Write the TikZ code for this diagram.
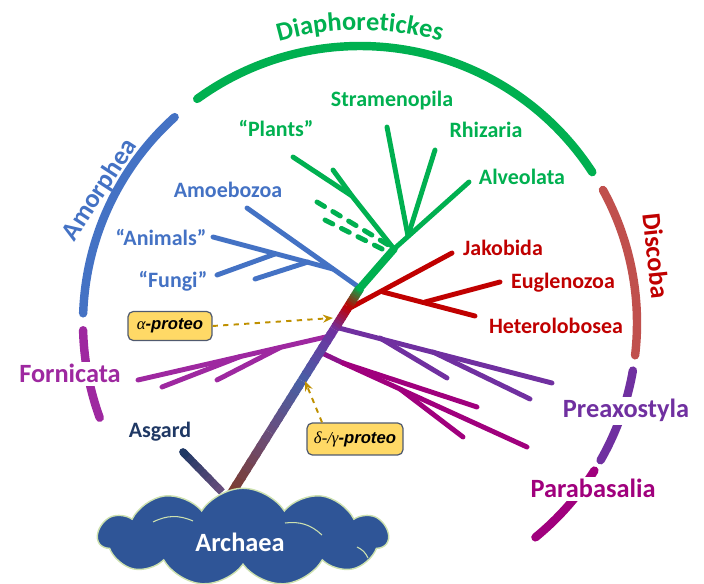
\documentclass[tikz,border=0pt]{standalone}
\usepackage{fontspec}
\setmainfont{Carlito}
\newfontfamily\greekfont{Liberation Serif}
\newfontfamily\boxfont{Liberation Sans}
\usepackage{tikz}
\usetikzlibrary{arrows.meta, calc, shapes.symbols, decorations.text}

\definecolor{leafgreen}{RGB}{0,176,80}
\definecolor{amorblue}{RGB}{68,114,196}
\definecolor{discored}{RGB}{192,0,0}
\definecolor{discoarc}{RGB}{192,80,77}
\definecolor{preaxpurple}{RGB}{112,48,160}
\definecolor{parabmagenta}{RGB}{160,0,125}
\definecolor{fornpurple}{RGB}{158,40,160}
\definecolor{asgardnavy}{RGB}{31,56,100}
\definecolor{trBrown}{RGB}{125,60,45}
\definecolor{trMauve}{RGB}{105,78,125}
\definecolor{trSlate}{RGB}{72,95,165}
\definecolor{cloudblue}{RGB}{47,85,151}
\definecolor{cloudedge}{RGB}{205,225,175}
\definecolor{boxfill}{RGB}{255,217,102}
\definecolor{boxedge}{RGB}{80,90,110}
\definecolor{arrowgold}{RGB}{191,144,0}

% colour ramp along a straight line
\newcommand{\gradline}[5]{%
  \foreach \k in {0,...,7}{
    \pgfmathsetmacro{\gfrom}{\k/8}
    \pgfmathsetmacro{\gto}{min(1,(\k+1.3)/8)}
    \pgfmathtruncatemacro{\gpc}{round(100*(\k+0.5)/8)}
    \draw[#5, line cap=butt, color=#4!\gpc!#3] ($(#1)!\gfrom!(#2)$) -- ($(#1)!\gto!(#2)$);
  }}
% piece of the outer ring
\newcommand{\ringarc}[3]{%
  \draw[clade, #1] plot[smooth, domain=#2:#3, samples=40, variable=\t] ({360+277*cos(\t)},{323+277*sin(\t)});}

\begin{document}
\begin{tikzpicture}[
    x=0.02cm, y=-0.02cm,
    branch/.style={line width=2.8pt, line cap=round},
    stem/.style={line width=4.4pt, line cap=round},
    trunk/.style={line width=5.2pt},
    clade/.style={line width=4.8pt, line cap=round},
    taxon/.style={font=\bfseries\fontsize{12.5}{15}\selectfont, anchor=base},
    cladename/.style={font=\bfseries\fontsize{15}{18}\selectfont, anchor=base, inner sep=1.5pt},
    probox/.style={draw=boxedge, fill=boxfill, rounded corners=3pt, line width=0.7pt, minimum height=0.58cm, font=\boxfont\bfseries\itshape\fontsize{9.5}{11}\selectfont},
    proarrow/.style={-{Stealth[length=2mm, width=1.6mm]}, dashed, line width=1.1pt, arrowgold}
]
    \useasboundingbox (0,0) rectangle (704,584);

    % outer ring
    \ringarc{leafgreen}{-126}{-33}
    \ringarc{amorblue}{-132}{-178}
    \ringarc{fornpurple}{178.5}{160}
    \ringarc{discoarc}{-28.7}{6.7}
    \ringarc{preaxpurple}{9.9}{29.7}
    \ringarc{parabmagenta}{32.2}{50.7}

    \path[decorate, decoration={text along path, text align=center, text color=leafgreen,
        text={|\bfseries\fontsize{15}{18}\selectfont|Diaphoretickes}}]
        plot[smooth, domain=-130:-50, samples=40, variable=\t] ({360+293*cos(\t)},{323+293*sin(\t)});

    % tree points
    \coordinate (root) at (231,494);
    \coordinate (fork) at (360,288);
    \coordinate (tr1) at ($(root)!0.3!(fork)$);
    \coordinate (tr2) at ($(root)!0.55!(fork)$);
    \coordinate (tr3) at ($(root)!0.8!(fork)$);
    \coordinate (tr4) at ($(root)!0.91!(fork)$);

    \coordinate (g1) at (394,249);
    \coordinate (g2) at (408,236);
    \coordinate (alv) at (469,182);
    \coordinate (plants) at (293,157);
    \coordinate (plantsfork) at (352,196);
    \coordinate (plants2) at (333,170);
    \coordinate (strtip) at (387,127);
    \coordinate (rhitip) at (435,150);
    \coordinate (dash1) at (317,202);
    \coordinate (dash1e) at (390,246);
    \coordinate (dash2) at (325,220);
    \coordinate (dash2e) at (386,251);

    \coordinate (amoeb) at (247,208);
    \coordinate (b1) at (333,269);
    \coordinate (animals) at (213,237);
    \coordinate (b2) at (275,254);
    \coordinate (fungi) at (217,275);
    \coordinate (b3) at (308,262);
    \coordinate (b3tip) at (255,279);

    \coordinate (r0) at ($(root)!0.893!(fork)$);
    \coordinate (jak) at (452,253);
    \coordinate (r1) at (383,292);
    \coordinate (het) at (475,316);
    \coordinate (r2) at (425,302);
    \coordinate (eug) at (500,282);

    \coordinate (p0) at ($(root)!0.81!(fork)$);
    \coordinate (pre) at (552,383);
    \coordinate (p1) at (380,338);
    \coordinate (pa) at (447,378);
    \coordinate (p2) at (433,352);
    \coordinate (pb) at (530,399);

    \coordinate (m0) at ($(root)!0.689!(fork)$);
    \coordinate (m1) at (343,363);
    \coordinate (ma) at (477,407);
    \coordinate (mb) at (527,447);
    \coordinate (m2) at (400,389);
    \coordinate (mc) at (463,437);

    \coordinate (f0) at ($(root)!0.767!(fork)$);
    \coordinate (forn) at (138,380);
    \coordinate (f1) at ($(f0)!0.466!(forn)$);
    \coordinate (f2) at ($(f0)!0.257!(forn)$);
    \coordinate (forn2) at (162,387);
    \coordinate (forn3) at (217,380);

    \coordinate (asgtip) at (183,452);
    \coordinate (asgbase) at (222,492);

    \coordinate (alphatip) at (333,318);
    \coordinate (deltatip) at (305,381);

    % Diaphoretickes
    \draw[branch, leafgreen] (plants) -- (plantsfork) -- (g1);
    \draw[branch, leafgreen] (plants2) -- (plantsfork);
    \draw[branch, leafgreen] (strtip) -- (g2);
    \draw[branch, leafgreen] (rhitip) -- (g2);
    \draw[branch, leafgreen] (g1) -- (alv);
    \draw[branch, leafgreen, dash pattern=on 5pt off 5.5pt] (dash1) -- (dash1e);
    \draw[branch, leafgreen, dash pattern=on 5pt off 5.5pt] (dash2) -- (dash2e);

    % Amorphea
    \draw[branch, amorblue] (amoeb) -- (fork);
    \draw[branch, amorblue] (animals) -- (b1);
    \draw[branch, amorblue] (fungi) -- (b2);
    \draw[branch, amorblue] (b3tip) -- (b3);

    % Discoba
    \draw[branch, discored] (r0) -- (jak);
    \draw[branch, discored] (r1) -- (het);
    \draw[branch, discored] (r2) -- (eug);

    % Preaxostyla, Parabasalia, Fornicata
    \draw[branch, preaxpurple] (p0) -- (pre);
    \draw[branch, preaxpurple] (p1) -- (pa);
    \draw[branch, preaxpurple] (p2) -- (pb);
    \draw[branch, preaxpurple!40!parabmagenta] (m0) -- (m1);
    \draw[branch, parabmagenta] (m1) -- (ma);
    \draw[branch, parabmagenta] (m1) -- (mb);
    \draw[branch, parabmagenta] (m2) -- (mc);
    \draw[branch, fornpurple] (f0) -- (forn);
    \draw[branch, fornpurple] (f1) -- (forn2);
    \draw[branch, fornpurple] (f2) -- (forn3);

    % Asgard and trunk
    \gradline{asgtip}{asgbase}{asgardnavy}{trMauve}{stem}
    \draw[stem, asgardnavy] (asgtip) -- ($(asgtip)!0.05!(asgbase)$);
    \gradline{root}{tr1}{trBrown}{trMauve}{trunk}
    \gradline{tr1}{tr2}{trMauve}{trSlate}{trunk}
    \gradline{tr2}{tr3}{trSlate}{preaxpurple}{trunk}
    \gradline{tr3}{tr4}{preaxpurple}{discored}{trunk}
    \gradline{tr4}{fork}{discored}{leafgreen}{trunk}
    \draw[stem, leafgreen] (fork) -- (g1);

    % Archaea
    \node[cloud, cloud puffs=11, cloud puff arc=115, aspect=2.9, fill=cloudblue, draw=cloudedge,
        line width=0.8pt, minimum width=5.8cm, minimum height=1.95cm, inner sep=0pt] (archaea) at (243,537) {};
    \draw[cloudedge, line width=0.6pt] (153,522) to[bend left=25] (193,521);
    \draw[cloudedge, line width=0.6pt] (285,523) to[bend left=25] (322,535);
    \draw[cloudedge, line width=0.6pt] (357,547) to[bend left=20] (368,558);
    \node[font=\bfseries\fontsize{15}{18}\selectfont, white, anchor=base] (archaealabel) at (240,552) {Archaea};

    % labels
    \node[taxon, leafgreen] (stram) at (392,107) {Stramenopila};
    \node[taxon, leafgreen] (plantslabel) at (276,137) {“Plants”};
    \node[taxon, leafgreen] (rhiz) at (486,138) {Rhizaria};
    \node[taxon, leafgreen] (alveo) at (522,185) {Alveolata};
    \node[taxon, amorblue] (amoebo) at (228,198) {Amoebozoa};
    \node[taxon, amorblue] (animalslabel) at (161,246) {“Animals”};
    \node[taxon, amorblue] (fungilabel) at (173,288) {“Fungi”};
    \node[taxon, discored] (jakob) at (503,256) {Jakobida};
    \node[taxon, discored] (eugleno) at (563,289) {Euglenozoa};
    \node[taxon, discored] (hetero) at (556,334) {Heterolobosea};
    \node[taxon, asgardnavy] (asgard) at (160,438) {Asgard};

    \node[cladename, amorblue, anchor=center, rotate=57] (amorphea) at (100,190) {Amorphea};
    \node[cladename, discored, anchor=center, rotate=-84] (discoba) at (656,256) {Discoba};
    \node[cladename, fornpurple, fill=white] (fornicata) at (70,383) {Fornicata};
    \node[cladename, preaxpurple, fill=white] (preaxo) at (626,418) {Preaxostyla};
    \node[cladename, parabmagenta, fill=white] (parab) at (593,498) {Parabasalia};

    % proteobacteria hints
    \node[probox, minimum width=1.68cm] (alphabox) at (170,326) {{\greekfont\mdseries α}-proteo};
    \node[probox, minimum width=1.92cm, minimum height=0.64cm] (deltabox) at (355,439) {{\greekfont\mdseries δ-/γ}-proteo};
    \draw[proarrow] (alphabox.east) -- (alphatip);
    \draw[proarrow] ([xshift=-0.66cm]deltabox.north) -- (deltatip);
\end{tikzpicture}
\end{document}
